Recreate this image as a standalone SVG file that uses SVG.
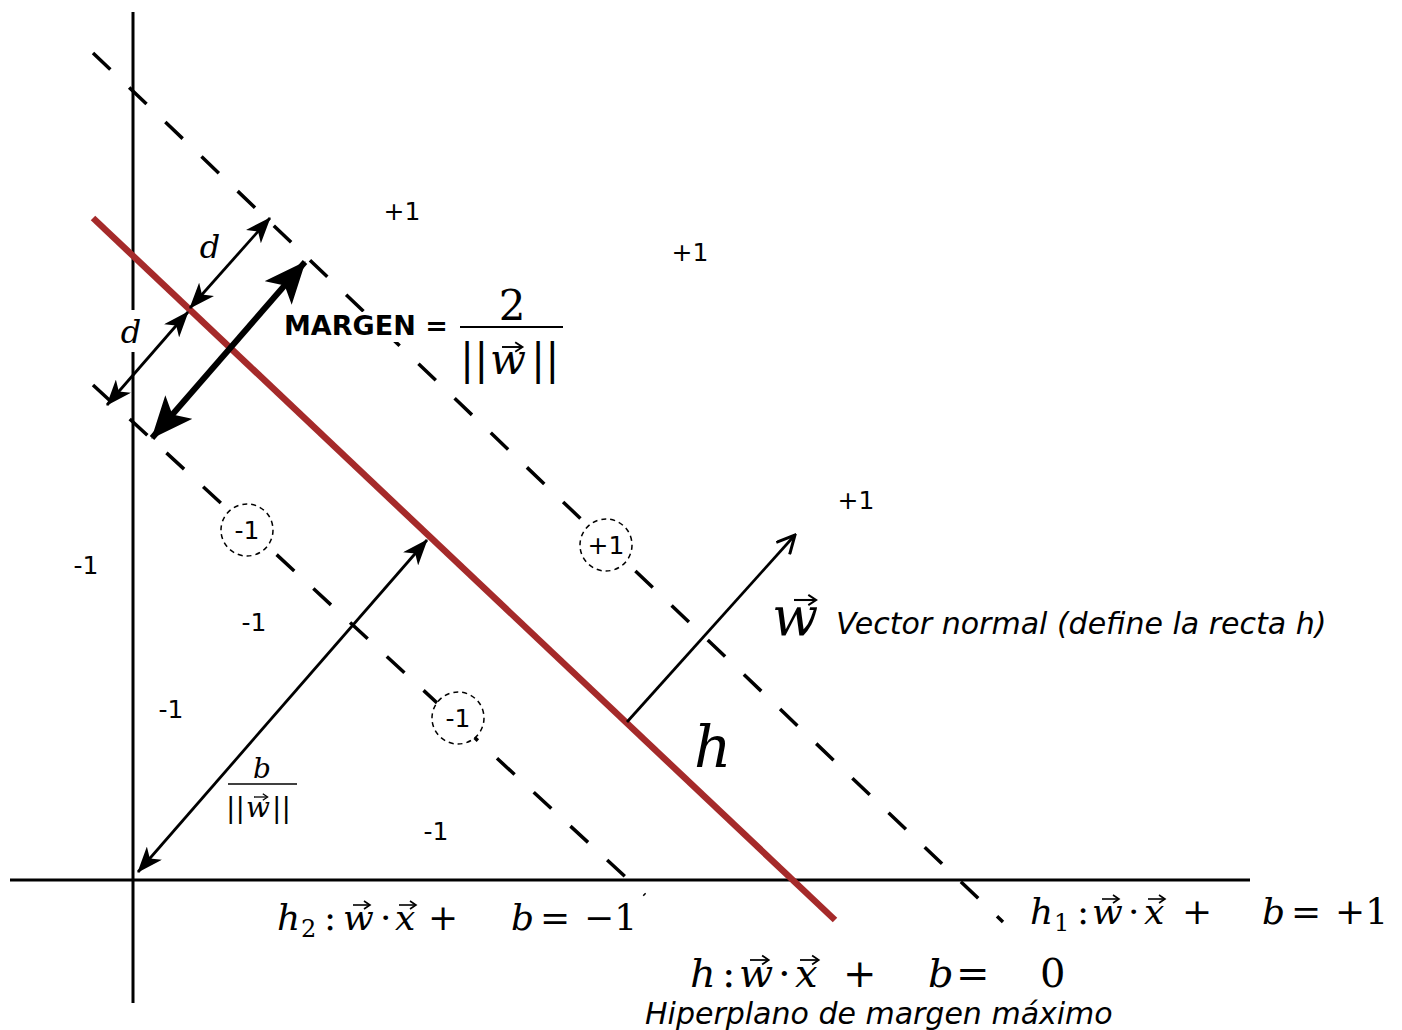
<svg xmlns="http://www.w3.org/2000/svg" xmlns:xlink="http://www.w3.org/1999/xlink" width="1402" height="1030" viewBox="0 0 1402 1030">
<style>
.ax{stroke:#000;stroke-width:3;fill:none}
.dash{stroke:#000;stroke-width:3.5;fill:none;stroke-dasharray:24 26}
.arr{stroke:#000;stroke-width:2.8;fill:none}
.lbl{font-family:"DejaVu Sans",sans-serif;font-size:25px;fill:#000;text-anchor:middle}
.circ{fill:#fff;stroke:#000;stroke-width:1.5;stroke-dasharray:5 4}
.m{font-family:"DejaVu Serif",serif;fill:#000}
.mi{font-family:"DejaVu Serif",serif;font-style:italic;fill:#000}
.it{font-family:"DejaVu Sans",sans-serif;font-style:italic;fill:#000}
</style>
<defs>
<marker id="ah" viewBox="0 0 26 20" refX="25" refY="10" markerWidth="26" markerHeight="20" markerUnits="userSpaceOnUse" orient="auto-start-reverse">
<path d="M0,0 L26,10 L0,20 L7,10 z" fill="#000"/>
</marker>
<marker id="ahb" viewBox="0 0 42 36" refX="41" refY="18" markerWidth="42" markerHeight="36" markerUnits="userSpaceOnUse" orient="auto-start-reverse">
<path d="M0,0 L42,18 L0,36 L10,18 z" fill="#000"/>
</marker>
<marker id="aho" viewBox="0 0 22 20" refX="20" refY="10" markerWidth="22" markerHeight="20" markerUnits="userSpaceOnUse" orient="auto">
<path d="M2,1 L20,10 L2,19" fill="none" stroke="#000" stroke-width="3"/>
</marker>
<g id="vec"><path d="M0,0 H16" stroke="#000" stroke-width="1.6" fill="none"/><path d="M11,-4 L17,0 L11,4" stroke="#000" stroke-width="1.6" fill="none"/></g>
</defs>

<g id="axes">
<path class="ax" d="M133,12 V310 M133,352 V1003"/>
<path class="ax" d="M10,880 H1250"/>
</g>

<g id="hyperplanes">
<path id="h1-line" class="dash" d="M93,53 L1003,922"/>
<path id="h2-line" class="dash" d="M93,385 L645,895"/>
<path id="h-line" d="M93,218 L835,920" stroke="#a52a2a" stroke-width="6.5" fill="none"/>
</g>

<g id="connectors">
<path class="arr" d="M190,308 L270,218" marker-start="url(#ah)" marker-end="url(#ah)"/>
<path class="arr" d="M107,405 L188,312" marker-start="url(#ah)" marker-end="url(#ah)"/>
<path d="M152,438 L305,262" stroke="#000" stroke-width="6" fill="none" marker-start="url(#ahb)" marker-end="url(#ahb)"/>
<path class="arr" d="M138,872 L427,540" marker-start="url(#ah)" marker-end="url(#ah)"/>
<path class="arr" d="M627,722 L795,535" marker-end="url(#aho)"/>
</g>

<g id="margin-label">
<rect x="280" y="312" width="178" height="30" fill="#fff"/>
<text x="284" y="335" font-family="DejaVu Sans,sans-serif" font-weight="bold" font-size="27">MARGEN =</text>
<text class="m" x="512" y="320" font-size="42" text-anchor="middle">2</text>
<path d="M460,327 H563" stroke="#000" stroke-width="2"/>
<text class="m" x="460" y="374" font-size="42">||</text>
<text class="mi" x="490" y="374" font-size="42">w</text>
<use xlink:href="#vec" transform="translate(502,347) scale(1.2)"/>
<text class="m" x="531" y="374" font-size="42">||</text>
</g>

<g id="d-labels">
<rect x="120" y="312" width="24" height="38" fill="#fff"/>
<text class="mi" x="210" y="258" font-size="32" text-anchor="middle">d</text>
<text class="mi" x="131" y="343" font-size="32" text-anchor="middle">d</text>
</g>

<g id="b-label">
<text class="mi" x="262" y="778" font-size="28" text-anchor="middle">b</text>
<path d="M228,784 H297" stroke="#000" stroke-width="1.6"/>
<text class="m" x="226" y="817" font-size="28">||</text>
<text class="mi" x="246" y="817" font-size="28">w</text>
<use xlink:href="#vec" transform="translate(254,797) scale(0.8)"/>
<text class="m" x="272" y="817" font-size="28">||</text>
</g>

<g id="class-labels">
<text class="lbl" x="402" y="220">+1</text>
<text class="lbl" x="690" y="261">+1</text>
<text class="lbl" x="856" y="509">+1</text>
<text class="lbl" x="86" y="574">-1</text>
<text class="lbl" x="254" y="631">-1</text>
<text class="lbl" x="171" y="718">-1</text>
<text class="lbl" x="436" y="840">-1</text>
</g>

<g id="support-vectors">
<g id="sv1"><circle class="circ" cx="247" cy="530" r="26"/><text class="lbl" x="247" y="539">-1</text></g>
<g id="sv2"><circle class="circ" cx="606" cy="545" r="26"/><text class="lbl" x="606" y="554">+1</text></g>
<g id="sv3"><circle class="circ" cx="458" cy="718" r="26"/><text class="lbl" x="458" y="727">-1</text></g>
</g>

<g id="w-label">
<text class="mi" x="772" y="635" font-size="54">w</text>
<use xlink:href="#vec" transform="translate(794,600) scale(1.3)"/>
<text class="it" x="836" y="634" font-size="30">Vector normal (define la recta h)</text>
</g>

<g id="h-big">
<text class="mi" x="694" y="767" font-size="58">h</text>
</g>

<g id="h2-eq">
<text class="mi" x="277" y="930" font-size="36">h</text>
<text class="m" x="301" y="937" font-size="24">2</text>
<text class="m" x="324" y="930" font-size="36">:</text>
<text class="mi" x="343" y="930" font-size="36">w</text>
<use xlink:href="#vec" transform="translate(353,905)"/>
<text class="m" x="380" y="930" font-size="36">·</text>
<text class="mi" x="395" y="930" font-size="36">x</text>
<use xlink:href="#vec" transform="translate(399,905)"/>
<text class="m" x="428" y="930" font-size="36">+</text>
<text class="mi" x="511" y="930" font-size="36">b</text>
<text class="m" x="540" y="930" font-size="36">=</text>
<text class="m" x="584" y="930" font-size="36">−1</text>
</g>

<g id="h1-eq">
<text class="mi" x="1030" y="924" font-size="36">h</text>
<text class="m" x="1054" y="931" font-size="24">1</text>
<text class="m" x="1077" y="924" font-size="36">:</text>
<text class="mi" x="1092" y="924" font-size="36">w</text>
<use xlink:href="#vec" transform="translate(1102,899)"/>
<text class="m" x="1128" y="924" font-size="36">·</text>
<text class="mi" x="1144" y="924" font-size="36">x</text>
<use xlink:href="#vec" transform="translate(1148,899)"/>
<text class="m" x="1182" y="924" font-size="36">+</text>
<text class="mi" x="1262" y="924" font-size="36">b</text>
<text class="m" x="1291" y="924" font-size="36">=</text>
<text class="m" x="1335" y="924" font-size="36">+1</text>
</g>

<g id="h-eq">
<text class="mi" x="690" y="987" font-size="40">h</text>
<text class="m" x="722" y="987" font-size="40">:</text>
<text class="mi" x="739" y="987" font-size="40">w</text>
<use xlink:href="#vec" transform="translate(750,960) scale(1.1)"/>
<text class="m" x="778" y="987" font-size="40">·</text>
<text class="mi" x="795" y="987" font-size="40">x</text>
<use xlink:href="#vec" transform="translate(800,960) scale(1.1)"/>
<text class="m" x="843" y="987" font-size="40">+</text>
<text class="mi" x="928" y="987" font-size="40">b</text>
<text class="m" x="956" y="987" font-size="40">=</text>
<text class="m" x="1040" y="987" font-size="40">0</text>
<text class="it" x="645" y="1024" font-size="30">Hiperplano de margen máximo</text>
</g>
</svg>
